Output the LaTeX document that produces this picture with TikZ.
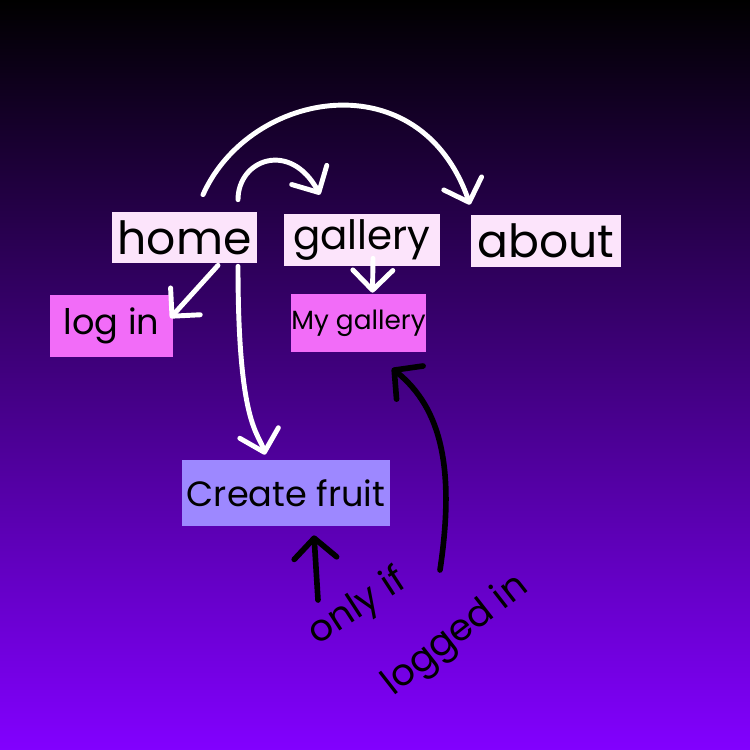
\documentclass[tikz,border=0pt]{standalone}
\usepackage{fontspec}
\setmainfont{Poppins}
\usepackage{xcolor}
\usepackage{tikz}
\usetikzlibrary{positioning,arrows.meta,calc}
\definecolor{bgbottom}{HTML}{8200FF}
\definecolor{navpink}{HTML}{FCE4FB}
\definecolor{subpink}{HTML}{F26CF8}
\definecolor{formlilac}{HTML}{9D88FF}
\tikzset{
mainpage/.style={
fill=navpink,
inner sep=0pt,
text=black,
font=\fontsize{26}{30}\selectfont
},
subpage/.style={
fill=subpink,
inner sep=0pt,
text=black,
font=\fontsize{20}{24}\selectfont
},
formpage/.style={
fill=formlilac,
inner sep=0pt,
text=black,
font=\fontsize{20}{24}\selectfont
},
note/.style={
inner sep=0pt,
text=black,
font=\fontsize{21}{25}\selectfont
},
navarrow/.style={
-{Straight Barb[round,length=4mm,width=8mm]},
white,
line width=2.8pt,
line cap=round
},
notearrow/.style={
-{Straight Barb[round,length=4mm,width=8.5mm]},
black,
line width=3.2pt,
line cap=round
}
}

\begin{document}
\begin{tikzpicture}[x=0.02cm,y=-0.02cm]
\shade[top color=black,bottom color=bgbottom](0,0) rectangle (750,750);
\useasboundingbox (0,0) rectangle (750,750);

\node[mainpage,minimum width=2.9cm,minimum height=1.02cm](home) at (184.5,237.5){home};
\node[mainpage,font=\fontsize{23}{27}\selectfont,minimum width=3.12cm,minimum height=1.04cm](gallery) at (362,240){gallery};
\node[mainpage,minimum width=3cm,minimum height=1.04cm](about) at (546,241){about};
\node[subpage,minimum width=2.46cm,minimum height=1.24cm](login) at (111.5,326){log in};
\node[subpage,font=\fontsize{15}{18}\selectfont,minimum width=2.54cm,minimum height=1.16cm](mygallery) at (358.5,323){My gallery};
\node[formpage,minimum width=4.16cm,minimum height=1.32cm](create) at (286,493){Create fruit};

\node[note,rotate=33](onlyif) at (358,608){only if};
\node[note,rotate=38](loggedin) at (456,636){logged in};

\draw[navarrow]($(home.north)+(18.5,-17)$) .. controls +(47,-105) and +(-50,-145) .. ($(about.north)+(-76,-10)$);
\draw[navarrow]($(home.north)+(53.5,-12)$) .. controls +(0,-40) and +(-30,-55) .. ($(gallery.north)+(-42,-19)$);
\draw[navarrow]($(home.south)+(33.5,2)$)--($(login.east)+(-3,-8)$);
\draw[navarrow]($(home.south)+(53.5,3)$) .. controls +(0,160) and +(-6,-22) .. ($(create.north)+(-21,-5)$);
\draw[navarrow]($(gallery.south)+(11,-8)$)--($(mygallery.north)+(14,-1)$);

\draw[notearrow]($(onlyif.center)+(-40,-8)$)--($(create.south)+(28,9)$);
\draw[notearrow]($(loggedin.center)+(-16,-66)$) .. controls +(15,-100) and +(50,40) .. ($(mygallery.south)+(33.5,16)$);
\end{tikzpicture}
\end{document}
